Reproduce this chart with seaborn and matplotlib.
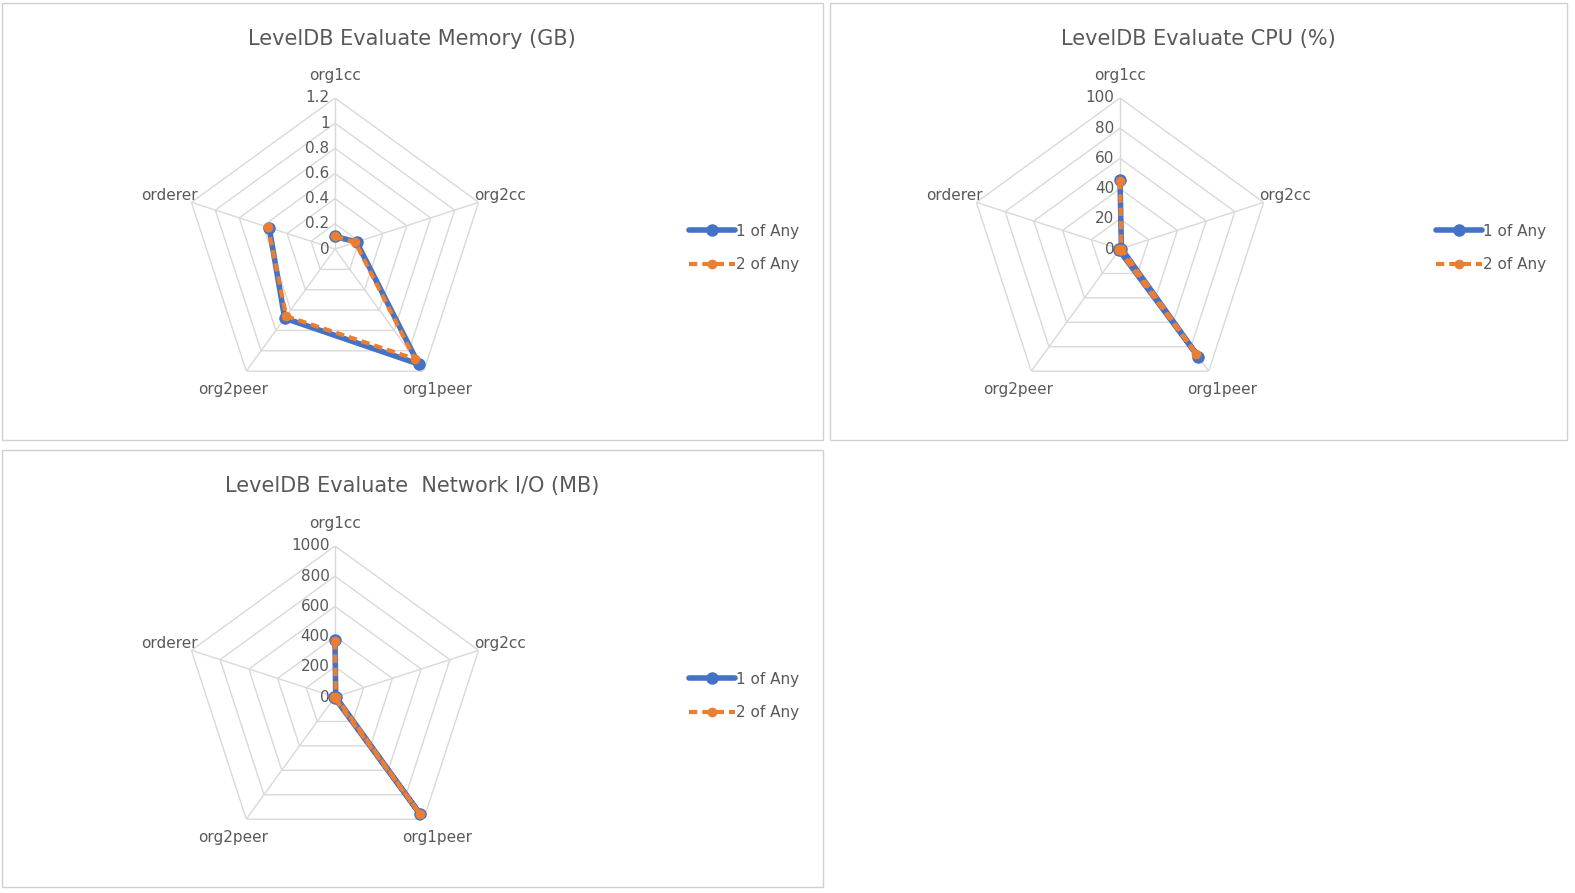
import numpy as np
import pandas as pd
import matplotlib
matplotlib.use("Agg")
from matplotlib import pyplot as plt
from matplotlib.patches import Rectangle
from matplotlib.transforms import offset_copy
import seaborn as sns

sns.set_style("white")
plt.rcParams["font.family"] = ["DejaVu Sans"]

nodes = ["org1cc", "org2cc", "org1peer", "org2peer", "orderer"]
series = ["1 of Any", "2 of Any"]

mem_1 = [0.10, 0.18, 1.13, 0.68, 0.55]
mem_2 = [0.10, 0.17, 1.08, 0.66, 0.56]
cpu_1 = [46, 1, 88, 1, 1]
cpu_2 = [45, 1, 86, 1, 1]
net_1 = [375, 5, 960, 5, 5]
net_2 = [370, 5, 955, 5, 5]

mem_ticks = [0, 0.2, 0.4, 0.6, 0.8, 1, 1.2]
cpu_ticks = [0, 20, 40, 60, 80, 100]
net_ticks = [0, 200, 400, 600, 800, 1000]

panels = [
    ("LevelDB Evaluate Memory (GB)", mem_1, mem_2, mem_ticks, (335, 249), (2, 3, 821, 437)),
    ("LevelDB Evaluate CPU (%)", cpu_1, cpu_2, cpu_ticks, (1120, 249), (830, 3, 737, 437)),
    ("LevelDB Evaluate  Network I/O (MB)", net_1, net_2, net_ticks, (335, 697), (2, 450, 821, 437)),
]

W, H = 1575, 893
fig = plt.figure(figsize=(W / 100, H / 100), dpi=100)
R = 151
theta = np.linspace(0, 2 * np.pi, 6)[:5]
colors = {"1 of Any": "#4472C4", "2 of Any": "#ED7D31"}

for title, s1, s2, ticks, (cx, cy), (bx, by, bw, bh) in panels:
    fig.patches.append(Rectangle((bx / W, 1 - (by + bh) / H), bw / W, bh / H,
                                 transform=fig.transFigure, fill=False,
                                 edgecolor="#d0d0d0", lw=1))
    fig.text((bx + bw / 2 if bw < 800 else cx + 77) / W, 1 - (by + 36) / H, title,
             ha="center", va="center", fontsize=15, color="#595959")
    ax = fig.add_axes([(cx - R) / W, (H - cy - R) / H, 2 * R / W, 2 * R / H],
                      projection="polar")
    ax.set_theta_zero_location("N")
    ax.set_theta_direction(-1)
    rmax = ticks[-1]
    ax.set_ylim(0, rmax)
    ax.grid(False)
    ax.spines["polar"].set_visible(False)
    ax.set_xticks([])
    ax.set_yticks([])
    ax.patch.set_alpha(0)
    closed = np.append(theta, theta[0])
    for t in ticks[1:]:
        ax.plot(closed, [t] * 6, color="#d9d9d9", lw=1, zorder=0)
    for a in theta:
        ax.plot([a, a], [0, rmax], color="#d9d9d9", lw=1, zorder=0)
    off = offset_copy(ax.transData, fig=fig, x=-4, y=0, units="points")
    for t in ticks:
        ax.text(0, t, f"{t:g}", transform=off, ha="right", va="center",
                fontsize=11, color="#595959")
    for a, name in zip(theta, nodes):
        ax.text(a, rmax * 1.15, name, ha="center", va="center",
                fontsize=11, color="#595959")
    df = pd.DataFrame({
        "theta": np.concatenate([closed, closed]),
        "value": np.concatenate([s1 + s1[:1], s2 + s2[:1]]),
        "series": [series[0]] * 6 + [series[1]] * 6,
    })
    sns.lineplot(data=df[df.series == series[0]], x="theta", y="value", sort=False,
                 color=colors[series[0]], lw=4, marker="o", markersize=9,
                 markeredgewidth=0, ax=ax, label=series[0], legend=False)
    sns.lineplot(data=df[df.series == series[1]], x="theta", y="value", sort=False,
                 color=colors[series[1]], lw=3, ls=(0, (2, 1.2)), marker="o",
                 markersize=7, markeredgewidth=0, ax=ax, label=series[1], legend=False)
    ax.set_xlabel("")
    ax.set_ylabel("")
    h, l = ax.get_legend_handles_labels()
    fig.legend(h, l, loc="center left", frameon=False, fontsize=11,
               labelcolor="#595959", handlelength=3, handletextpad=0.1,
               labelspacing=1.2,
               bbox_to_anchor=((cx + 340 if bw > 800 else cx + 302) / W, 1 - (cy - 1) / H))

fig.savefig("out.png", dpi=100)
